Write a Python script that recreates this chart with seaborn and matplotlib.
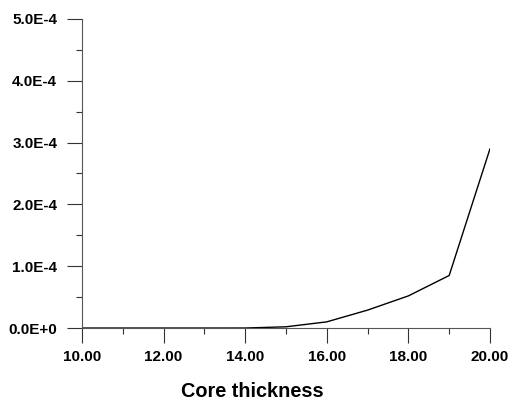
import matplotlib
matplotlib.use("Agg")
import matplotlib.pyplot as plt
import seaborn as sns
import pandas as pd
from matplotlib.ticker import FuncFormatter, MultipleLocator

thickness = [10, 11, 12, 13, 14, 15, 16, 17, 18, 19, 20]
values = [0.0, 0.0, 0.0, 0.0, 0.05e-6, 0.2e-5, 1.0e-5, 2.9e-5, 5.2e-5, 8.5e-5, 2.9e-4]
x_label = "Core thickness"

sns.set_style("ticks")
plt.rcParams['font.family'] = ['Liberation Sans', 'DejaVu Sans']

df = pd.DataFrame({"x": thickness, "y": values})

fig = plt.figure(figsize=(5.12, 4.03), dpi=100)
ax = fig.add_axes([0.16, 0.186, 0.797, 0.767])
sns.lineplot(data=df, x="x", y="y", ax=ax, color="black", linewidth=1.0)

ax.set_xlim(10, 20)
ax.set_ylim(0, 5e-4)
ax.xaxis.set_major_locator(MultipleLocator(2))
ax.xaxis.set_minor_locator(MultipleLocator(1))
ax.yaxis.set_major_locator(MultipleLocator(1e-4))
ax.yaxis.set_minor_locator(MultipleLocator(0.5e-4))

def yfmt(v, pos):
    if abs(v) < 1e-12:
        return "0.0E+0"
    s = f"{v:.1E}"
    m, e = s.split("E")
    e = int(e)
    sign = "-" if e < 0 else "+"
    return f"{m}E{sign}{abs(e)}"

ax.yaxis.set_major_formatter(FuncFormatter(yfmt))
ax.xaxis.set_major_formatter(FuncFormatter(lambda v, p: f"{v:.2f}"))

ax.tick_params(axis="both", which="major", length=10.8, width=0.8, color="#333333",
               labelsize=11, labelcolor="black")
ax.tick_params(axis="x", which="major", pad=5)
ax.tick_params(axis="y", which="major", pad=7)
ax.tick_params(axis="both", which="minor", length=4.3, width=0.8, color="#333333")
for lab in ax.get_xticklabels() + ax.get_yticklabels():
    lab.set_fontweight("bold")

sns.despine(ax=ax)
for s in ["left", "bottom"]:
    ax.spines[s].set_color("#555555")
    ax.spines[s].set_linewidth(0.8)

ax.set_xlabel(x_label, fontsize=14.3, fontweight="bold", color="black")
ax.xaxis.set_label_coords(0.417, -0.175)
ax.set_ylabel("")
fig.savefig("out.png", dpi=100)
